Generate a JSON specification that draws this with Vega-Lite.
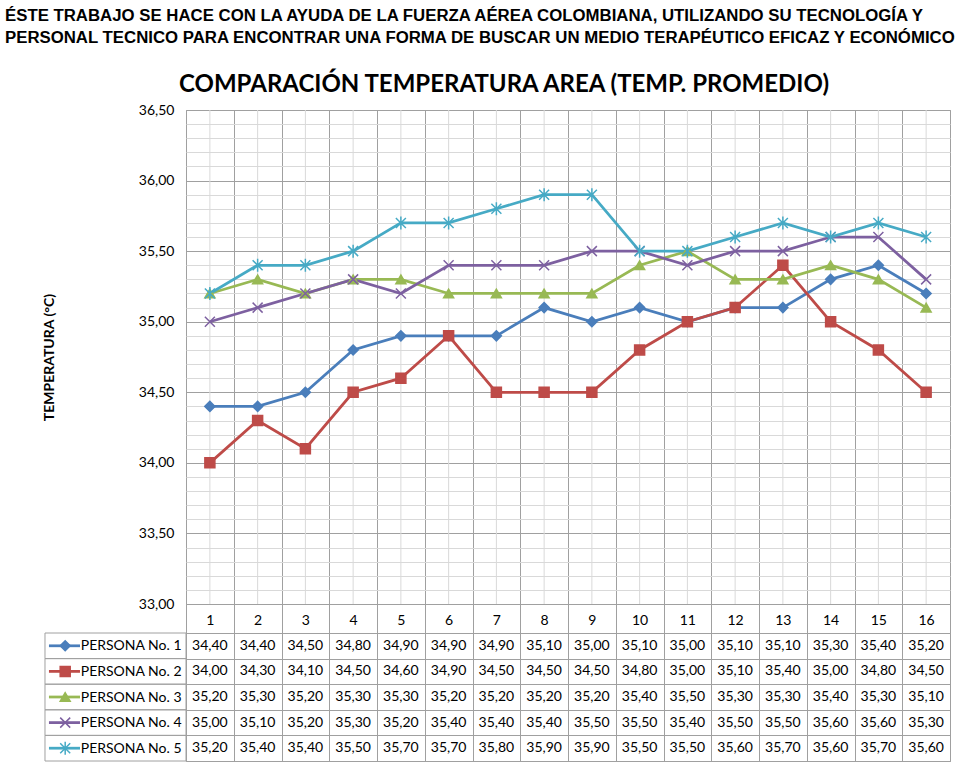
{
  "$schema": "https://vega.github.io/schema/vega-lite/v6.json",
  "background": "white",
  "padding": {"left": 5, "top": 7, "right": 5, "bottom": 5},
  "datasets": {
    "temps": [
      {"dia": 1, "persona": "PERSONA  No. 1", "temp": 34.40},
      {"dia": 2, "persona": "PERSONA  No. 1", "temp": 34.40},
      {"dia": 3, "persona": "PERSONA  No. 1", "temp": 34.50},
      {"dia": 4, "persona": "PERSONA  No. 1", "temp": 34.80},
      {"dia": 5, "persona": "PERSONA  No. 1", "temp": 34.90},
      {"dia": 6, "persona": "PERSONA  No. 1", "temp": 34.90},
      {"dia": 7, "persona": "PERSONA  No. 1", "temp": 34.90},
      {"dia": 8, "persona": "PERSONA  No. 1", "temp": 35.10},
      {"dia": 9, "persona": "PERSONA  No. 1", "temp": 35.00},
      {"dia": 10, "persona": "PERSONA  No. 1", "temp": 35.10},
      {"dia": 11, "persona": "PERSONA  No. 1", "temp": 35.00},
      {"dia": 12, "persona": "PERSONA  No. 1", "temp": 35.10},
      {"dia": 13, "persona": "PERSONA  No. 1", "temp": 35.10},
      {"dia": 14, "persona": "PERSONA  No. 1", "temp": 35.30},
      {"dia": 15, "persona": "PERSONA  No. 1", "temp": 35.40},
      {"dia": 16, "persona": "PERSONA  No. 1", "temp": 35.20},
      {"dia": 1, "persona": "PERSONA  No. 2", "temp": 34.00},
      {"dia": 2, "persona": "PERSONA  No. 2", "temp": 34.30},
      {"dia": 3, "persona": "PERSONA  No. 2", "temp": 34.10},
      {"dia": 4, "persona": "PERSONA  No. 2", "temp": 34.50},
      {"dia": 5, "persona": "PERSONA  No. 2", "temp": 34.60},
      {"dia": 6, "persona": "PERSONA  No. 2", "temp": 34.90},
      {"dia": 7, "persona": "PERSONA  No. 2", "temp": 34.50},
      {"dia": 8, "persona": "PERSONA  No. 2", "temp": 34.50},
      {"dia": 9, "persona": "PERSONA  No. 2", "temp": 34.50},
      {"dia": 10, "persona": "PERSONA  No. 2", "temp": 34.80},
      {"dia": 11, "persona": "PERSONA  No. 2", "temp": 35.00},
      {"dia": 12, "persona": "PERSONA  No. 2", "temp": 35.10},
      {"dia": 13, "persona": "PERSONA  No. 2", "temp": 35.40},
      {"dia": 14, "persona": "PERSONA  No. 2", "temp": 35.00},
      {"dia": 15, "persona": "PERSONA  No. 2", "temp": 34.80},
      {"dia": 16, "persona": "PERSONA  No. 2", "temp": 34.50},
      {"dia": 1, "persona": "PERSONA  No. 3", "temp": 35.20},
      {"dia": 2, "persona": "PERSONA  No. 3", "temp": 35.30},
      {"dia": 3, "persona": "PERSONA  No. 3", "temp": 35.20},
      {"dia": 4, "persona": "PERSONA  No. 3", "temp": 35.30},
      {"dia": 5, "persona": "PERSONA  No. 3", "temp": 35.30},
      {"dia": 6, "persona": "PERSONA  No. 3", "temp": 35.20},
      {"dia": 7, "persona": "PERSONA  No. 3", "temp": 35.20},
      {"dia": 8, "persona": "PERSONA  No. 3", "temp": 35.20},
      {"dia": 9, "persona": "PERSONA  No. 3", "temp": 35.20},
      {"dia": 10, "persona": "PERSONA  No. 3", "temp": 35.40},
      {"dia": 11, "persona": "PERSONA  No. 3", "temp": 35.50},
      {"dia": 12, "persona": "PERSONA  No. 3", "temp": 35.30},
      {"dia": 13, "persona": "PERSONA  No. 3", "temp": 35.30},
      {"dia": 14, "persona": "PERSONA  No. 3", "temp": 35.40},
      {"dia": 15, "persona": "PERSONA  No. 3", "temp": 35.30},
      {"dia": 16, "persona": "PERSONA  No. 3", "temp": 35.10},
      {"dia": 1, "persona": "PERSONA  No. 4", "temp": 35.00},
      {"dia": 2, "persona": "PERSONA  No. 4", "temp": 35.10},
      {"dia": 3, "persona": "PERSONA  No. 4", "temp": 35.20},
      {"dia": 4, "persona": "PERSONA  No. 4", "temp": 35.30},
      {"dia": 5, "persona": "PERSONA  No. 4", "temp": 35.20},
      {"dia": 6, "persona": "PERSONA  No. 4", "temp": 35.40},
      {"dia": 7, "persona": "PERSONA  No. 4", "temp": 35.40},
      {"dia": 8, "persona": "PERSONA  No. 4", "temp": 35.40},
      {"dia": 9, "persona": "PERSONA  No. 4", "temp": 35.50},
      {"dia": 10, "persona": "PERSONA  No. 4", "temp": 35.50},
      {"dia": 11, "persona": "PERSONA  No. 4", "temp": 35.40},
      {"dia": 12, "persona": "PERSONA  No. 4", "temp": 35.50},
      {"dia": 13, "persona": "PERSONA  No. 4", "temp": 35.50},
      {"dia": 14, "persona": "PERSONA  No. 4", "temp": 35.60},
      {"dia": 15, "persona": "PERSONA  No. 4", "temp": 35.60},
      {"dia": 16, "persona": "PERSONA  No. 4", "temp": 35.30},
      {"dia": 1, "persona": "PERSONA  No. 5", "temp": 35.20},
      {"dia": 2, "persona": "PERSONA  No. 5", "temp": 35.40},
      {"dia": 3, "persona": "PERSONA  No. 5", "temp": 35.40},
      {"dia": 4, "persona": "PERSONA  No. 5", "temp": 35.50},
      {"dia": 5, "persona": "PERSONA  No. 5", "temp": 35.70},
      {"dia": 6, "persona": "PERSONA  No. 5", "temp": 35.70},
      {"dia": 7, "persona": "PERSONA  No. 5", "temp": 35.80},
      {"dia": 8, "persona": "PERSONA  No. 5", "temp": 35.90},
      {"dia": 9, "persona": "PERSONA  No. 5", "temp": 35.90},
      {"dia": 10, "persona": "PERSONA  No. 5", "temp": 35.50},
      {"dia": 11, "persona": "PERSONA  No. 5", "temp": 35.50},
      {"dia": 12, "persona": "PERSONA  No. 5", "temp": 35.60},
      {"dia": 13, "persona": "PERSONA  No. 5", "temp": 35.70},
      {"dia": 14, "persona": "PERSONA  No. 5", "temp": 35.60},
      {"dia": 15, "persona": "PERSONA  No. 5", "temp": 35.70},
      {"dia": 16, "persona": "PERSONA  No. 5", "temp": 35.60}
    ]
  },
  "data": {"name": "temps"},
  "config": {
    "locale": {"number": {"decimal": ",", "thousands": ".", "grouping": [3], "currency": ["", " €"]}},
    "font": "Lato",
    "view": {"stroke": "#a0a0a0"},
    "axis": {"labelFont": "Lato", "titleFont": "Lato", "labelColor": "black", "titleColor": "black"}
  },
  "title": {
    "text": ["ÉSTE TRABAJO SE HACE CON LA AYUDA DE LA FUERZA AÉREA COLOMBIANA, UTILIZANDO SU TECNOLOGÍA Y", "PERSONAL TECNICO PARA ENCONTRAR UNA FORMA DE BUSCAR UN MEDIO TERAPÉUTICO EFICAZ Y ECONÓMICO"],
    "anchor": "start",
    "frame": "group",
    "font": "Liberation Sans",
    "fontSize": 16.8,
    "fontWeight": "bold",
    "lineHeight": 22,
    "color": "black",
    "dx": -181,
    "offset": 26
  },
  "bounds": "flush",
  "spacing": 29,
  "vconcat": [
    {
      "width": 764,
      "height": 494,
      "title": {
        "text": "COMPARACIÓN TEMPERATURA AREA (TEMP. PROMEDIO)",
        "font": "Lato",
        "fontSize": 24,
        "fontWeight": "bold",
        "color": "black",
        "anchor": "middle",
        "dx": -64,
        "offset": 6
      },
      "encoding": {
        "x": {
          "field": "dia",
          "type": "ordinal",
          "scale": {"domain": [1,2,3,4,5,6,7,8,9,10,11,12,13,14,15,16], "paddingInner": 0, "paddingOuter": 0},
          "axis": {
            "title": null,
            "labelAngle": 0,
            "labelFontSize": 14,
            "labelPadding": -20,
            "ticks": true,
            "tickSize": 29,
            "tickBand": "extent",
            "tickColor": "#a0a0a0",
            "grid": true,
            "gridColor": "#a0a0a0",
            "domain": false
          }
        },
        "y": {
          "field": "temp",
          "type": "quantitative",
          "scale": {"domain": [33, 36.5], "nice": false, "zero": false},
          "axis": {
            "values": [33, 33.1, 33.2, 33.3, 33.4, 33.5, 33.6, 33.7, 33.8, 33.9, 34, 34.1, 34.2, 34.3, 34.4, 34.5, 34.6, 34.7, 34.8, 34.9, 35, 35.1, 35.2, 35.3, 35.4, 35.5, 35.6, 35.7, 35.8, 35.9, 36, 36.1, 36.2, 36.3, 36.4, 36.5],
            "format": ".2f",
            "labelExpr": "round(datum.value*10) % 5 == 0 ? datum.label : ''",
            "labelOverlap": false,
            "labelFontSize": 14,
            "labelPadding": 12,
            "ticks": false,
            "domain": false,
            "gridColor": {"condition": {"test": "round(datum.value*10) % 5 == 0", "value": "#a0a0a0"}, "value": "#d9d9d9"},
            "title": "TEMPERATURA (°C)",
            "titleFontSize": 14,
            "titleFontWeight": "bold",
            "titlePadding": 82
          }
        }
      },
      "layer": [
        {
          "transform": [{"aggregate": [{"op": "count", "as": "n"}], "groupby": ["dia"]}],
          "mark": {"type": "rule", "color": "#d9d9d9", "strokeWidth": 1},
          "encoding": {"y": null}
        },
        {
          "mark": {"type": "line", "strokeWidth": 2.75},
          "encoding": {
            "color": {
              "field": "persona",
              "type": "nominal",
              "scale": {"domain": ["PERSONA  No. 1", "PERSONA  No. 2", "PERSONA  No. 3", "PERSONA  No. 4", "PERSONA  No. 5"], "range": ["#4A7EBB", "#BE4B48", "#98B954", "#7D60A0", "#46AAC5"]},
              "legend": null
            }
          }
        },
        {
          "mark": {"type": "point", "filled": true, "opacity": 1, "strokeWidth": 1.5},
          "encoding": {
            "shape": {
              "field": "persona",
              "type": "nominal",
              "scale": {"domain": ["PERSONA  No. 1", "PERSONA  No. 2", "PERSONA  No. 3", "PERSONA  No. 4", "PERSONA  No. 5"], "range": ["diamond", "square", "triangle-up", "M-1,-1L1,1M-1,1L1,-1", "M-1,-1L1,1M-1,1L1,-1M0,-1.3L0,1.3"]},
              "legend": null
            },
            "size": {"value": 100},
            "fill": {
              "field": "persona",
              "type": "nominal",
              "scale": {"domain": ["PERSONA  No. 1", "PERSONA  No. 2", "PERSONA  No. 3", "PERSONA  No. 4", "PERSONA  No. 5"], "range": ["#4A7EBB", "#BE4B48", "#98B954", "transparent", "transparent"]},
              "legend": null
            },
            "stroke": {
              "field": "persona",
              "type": "nominal",
              "scale": {"domain": ["PERSONA  No. 1", "PERSONA  No. 2", "PERSONA  No. 3", "PERSONA  No. 4", "PERSONA  No. 5"], "range": ["#4A7EBB", "#BE4B48", "#98B954", "#7D60A0", "#46AAC5"]},
              "legend": null
            }
          }
        }
      ]
    },
    {
      "width": 764,
      "height": 128,
      "view": {"stroke": "#a0a0a0"},
      "resolve": {"scale": {"x": "independent"}},
      "encoding": {
        "y": {
          "field": "persona",
          "type": "nominal",
          "scale": {"domain": ["PERSONA  No. 1", "PERSONA  No. 2", "PERSONA  No. 3", "PERSONA  No. 4", "PERSONA  No. 5"], "paddingInner": 0, "paddingOuter": 0},
          "axis": {"title": null, "ticks": false, "domain": false, "grid": true, "tickBand": "extent", "gridColor": "#a0a0a0", "labelFontSize": 14, "labelPadding": 5, "labelLimit": 0}
        }
      },
      "layer": [
        {
          "mark": {"type": "text", "fontSize": 14, "font": "Lato", "color": "black"},
          "encoding": {
            "x": {
              "field": "dia",
              "type": "ordinal",
              "scale": {"domain": [1,2,3,4,5,6,7,8,9,10,11,12,13,14,15,16], "paddingInner": 0, "paddingOuter": 0},
              "axis": {"title": null, "labels": false, "ticks": false, "domain": false, "grid": true, "tickBand": "extent", "gridColor": "#a0a0a0"}
            },
            "text": {"field": "temp", "type": "quantitative", "format": ".2f"}
          }
        },
        {
          "transform": [{"aggregate": [{"op": "count", "as": "n"}], "groupby": ["persona"]}],
          "layer": [
            {
              "mark": {"type": "rect", "filled": false, "stroke": "#a0a0a0", "strokeWidth": 1},
              "encoding": {
                "x": {"datum": -2.953, "type": "quantitative", "scale": {"domain": [0, 16]}, "axis": null},
                "x2": {"datum": 0}
              }
            },
            {
              "mark": {"type": "rule", "strokeWidth": 2.75},
              "encoding": {
                "x": {"datum": -2.87, "type": "quantitative"},
                "x2": {"datum": -2.22},
                "color": {
                  "field": "persona",
                  "type": "nominal",
                  "scale": {"domain": ["PERSONA  No. 1", "PERSONA  No. 2", "PERSONA  No. 3", "PERSONA  No. 4", "PERSONA  No. 5"], "range": ["#4A7EBB", "#BE4B48", "#98B954", "#7D60A0", "#46AAC5"]},
                  "legend": null
                }
              }
            },
            {
              "mark": {"type": "point", "filled": true, "opacity": 1, "strokeWidth": 1.5},
              "encoding": {
                "x": {"datum": -2.53, "type": "quantitative"},
                "shape": {
                  "field": "persona",
                  "type": "nominal",
                  "scale": {"domain": ["PERSONA  No. 1", "PERSONA  No. 2", "PERSONA  No. 3", "PERSONA  No. 4", "PERSONA  No. 5"], "range": ["diamond", "square", "triangle-up", "M-1,-1L1,1M-1,1L1,-1", "M-1,-1L1,1M-1,1L1,-1M0,-1.3L0,1.3"]},
                  "legend": null
                },
                "size": {"value": 100},
                "fill": {
                  "field": "persona",
                  "type": "nominal",
                  "scale": {"domain": ["PERSONA  No. 1", "PERSONA  No. 2", "PERSONA  No. 3", "PERSONA  No. 4", "PERSONA  No. 5"], "range": ["#4A7EBB", "#BE4B48", "#98B954", "transparent", "transparent"]},
                  "legend": null
                },
                "stroke": {
                  "field": "persona",
                  "type": "nominal",
                  "scale": {"domain": ["PERSONA  No. 1", "PERSONA  No. 2", "PERSONA  No. 3", "PERSONA  No. 4", "PERSONA  No. 5"], "range": ["#4A7EBB", "#BE4B48", "#98B954", "#7D60A0", "#46AAC5"]},
                  "legend": null
                }
              }
            }
          ]
        }
      ]
    }
  ]
}
